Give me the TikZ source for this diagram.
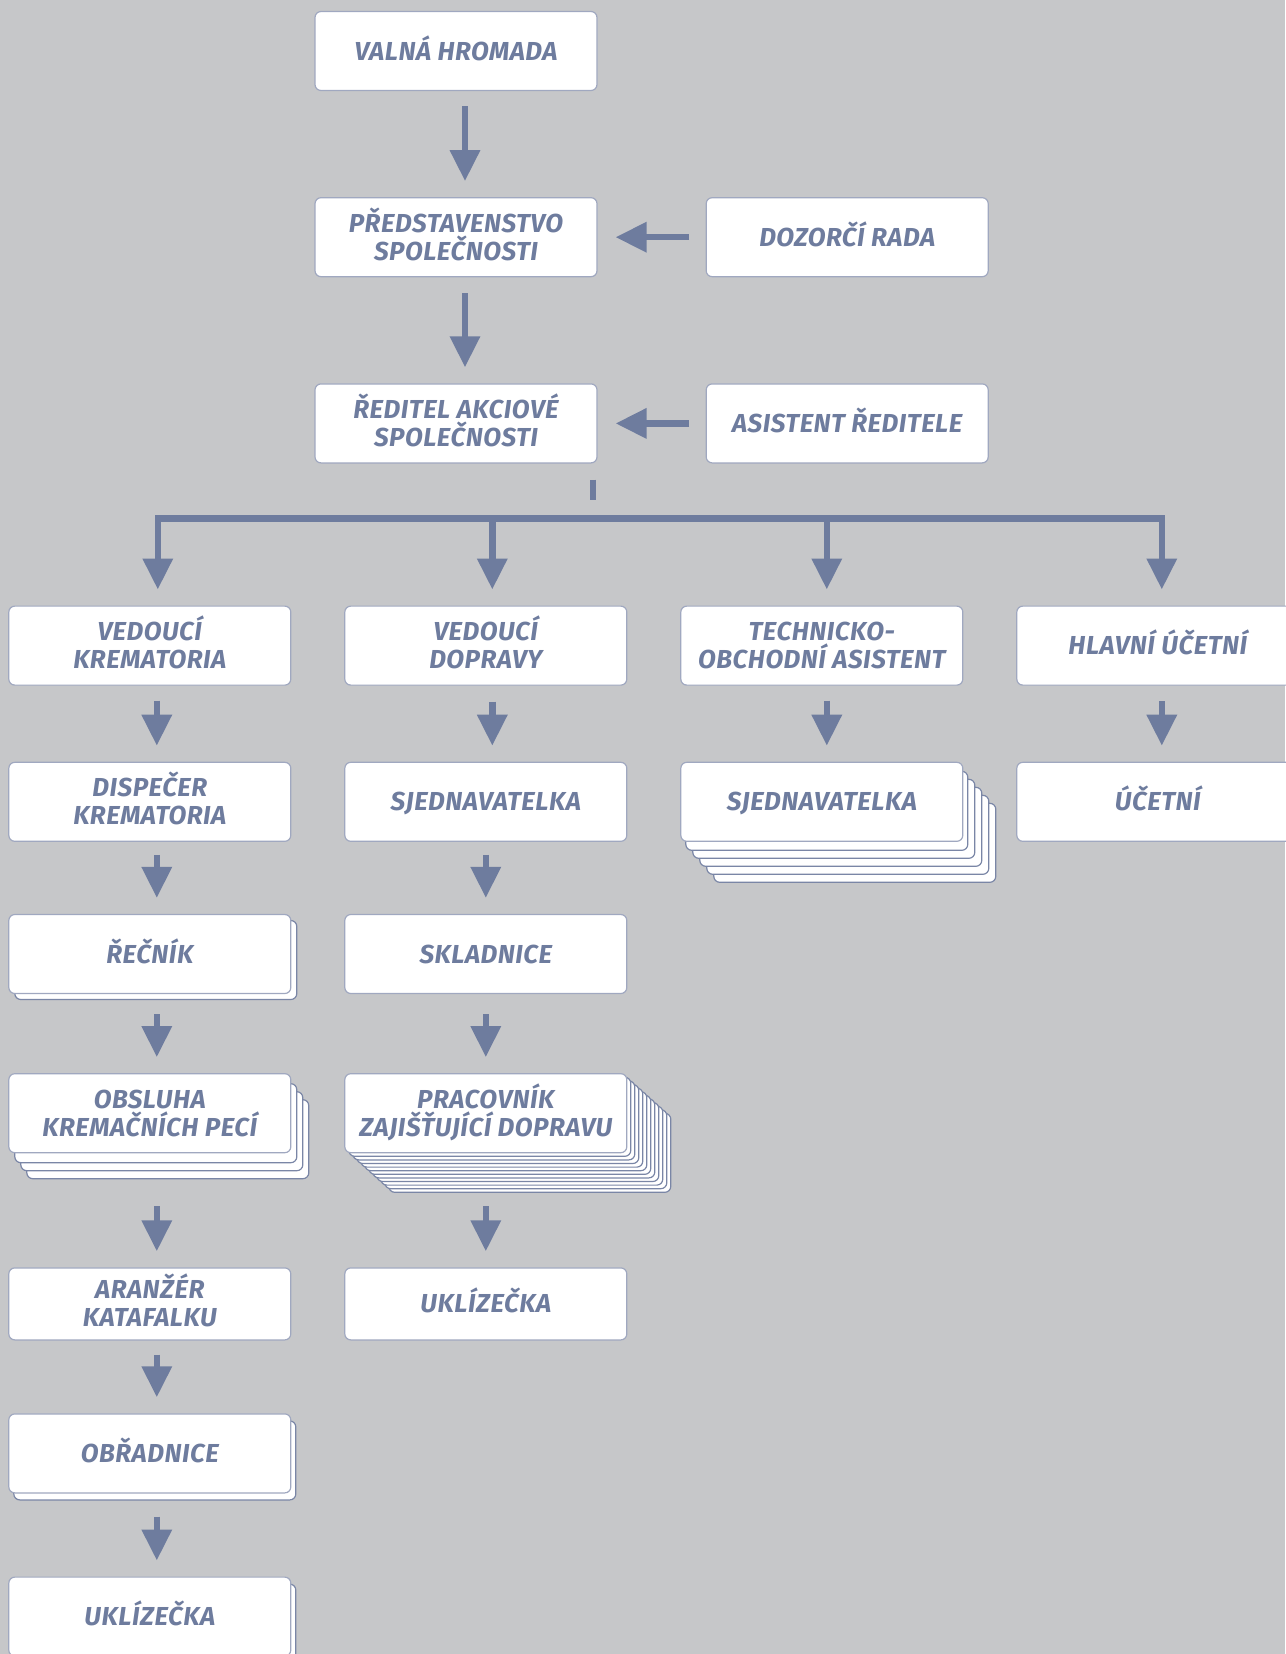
\documentclass[tikz,border=0pt]{standalone}
\usepackage{fontspec}
\newfontfamily\postfont{Fira Sans}[LetterSpace=2]
\usepackage{tikz}
\usetikzlibrary{positioning}
\usetikzlibrary{arrows.meta}
\usetikzlibrary{shadows}
\definecolor{paper}{RGB}{198,199,201}
\definecolor{ink}{RGB}{110,124,158}
\definecolor{frame}{RGB}{160,168,192}
\definecolor{sheetline}{RGB}{122,134,166}
\tikzstyle{post} = [rectangle, draw=frame, line width=0.6pt, fill=white, rounded corners=3pt, minimum width=141pt, minimum height=39.5pt, inner sep=2pt, align=center, text=ink, text height=9pt, text depth=0pt, font=\postfont\fontsize{13}{14}\selectfont\bfseries\itshape]
\tikzstyle{two lines} = [text height=23pt]
\tikzstyle{short post} = [post, minimum height=36pt]
\tikzstyle{flow} = [draw=ink, line width=3.25pt, -{Triangle[length=15.5pt, width=14.5pt]}, shorten >=8pt]
\tikzstyle{link} = [draw=ink, line width=3.25pt]
\tikzset{
  sheet/.style 2 args={general shadow={fill=white, draw=sheetline, line width=0.6pt, shadow xshift=#1, shadow yshift=#2}},
  single sheet/.style={sheet={2.5pt}{-3.5pt}},
  pile of three/.style={sheet={9pt}{-13pt}, sheet={6pt}{-9pt}, sheet={3pt}{-5pt}},
  pile of five/.style={sheet={16.5pt}{-20.5pt}, sheet={13pt}{-16.5pt}, sheet={9.5pt}{-12.5pt}, sheet={6pt}{-8.5pt}, sheet={2.5pt}{-4.5pt}},
  pile of eleven/.style={sheet={22pt}{-19.8pt}, sheet={20pt}{-18pt}, sheet={18pt}{-16.2pt}, sheet={16pt}{-14.4pt}, sheet={14pt}{-12.6pt}, sheet={12pt}{-10.8pt}, sheet={10pt}{-9pt}, sheet={8pt}{-7.2pt}, sheet={6pt}{-5.4pt}, sheet={4pt}{-3.6pt}, sheet={2pt}{-1.8pt}}
}
\begin{document}
\begin{tikzpicture}
            \fill[paper] (0,0) rectangle (642.5pt,-827pt);
            \useasboundingbox (0,0) rectangle (642.5pt,-827pt);
            \node[post] (valna) at (228pt,-25.5pt) {VALNÁ HROMADA};
            \node[post, two lines] (predstav) [below = 53pt of valna] {PŘEDSTAVENSTVO\\SPOLEČNOSTI};
            \node[post] (dozor) [right = 54pt of predstav] {DOZORČÍ RADA};
            \node[post, two lines] (reditel) [below = 53pt of predstav] {ŘEDITEL AKCIOVÉ\\SPOLEČNOSTI};
            \node[post] (asistent) [right = 54pt of reditel] {ASISTENT ŘEDITELE};
            \node[post, two lines] (vedkrem) [below left = 71pt and 11.5pt of reditel] {VEDOUCÍ\\KREMATORIA};
            \node[post, two lines] (veddoprava) [right = 26.4pt of vedkrem] {VEDOUCÍ\\DOPRAVY};
            \node[post, two lines] (techobch) [right = 26.4pt of veddoprava] {TECHNICKO-\\OBCHODNÍ ASISTENT};
            \node[post] (hlavuc) [right = 26.4pt of techobch] {HLAVNÍ ÚČETNÍ};
            \node[post, two lines] (dispecer) [below = 38pt of vedkrem] {DISPEČER\\KREMATORIA};
            \node[post] (sjedn) [below = 38pt of veddoprava] {SJEDNAVATELKA};
            \node[post, pile of five] (sjednobch) [below = 38pt of techobch] {SJEDNAVATELKA};
            \node[post] (ucetni) [below = 38pt of hlavuc] {ÚČETNÍ};
            \node[post, sheet={3pt}{-3pt}] (recnik) [below = 36pt of dispecer] {ŘEČNÍK};
            \node[post] (skladnice) [below = 36pt of sjedn] {SKLADNICE};
            \node[post, two lines, pile of three] (obsluha) [below = 39.5pt of recnik] {OBSLUHA\\KREMAČNÍCH PECÍ};
            \node[post, two lines, pile of eleven] (pracovnik) [below = 39.5pt of skladnice] {PRACOVNÍK\\ZAJIŠŤUJÍCÍ DOPRAVU};
            \node[short post, two lines] (aranzer) [below = 57pt of obsluha] {ARANŽÉR\\KATAFALKU};
            \node[short post] (uklidoprava) [below = 57pt of pracovnik] {UKLÍZEČKA};
            \node[post, single sheet] (obradnice) [below = 36.4pt of aranzer] {OBŘADNICE};
            \node[post, single sheet] (uklikrem) [below = 41.5pt of obradnice] {UKLÍZEČKA};

            \draw[flow, shorten <=7.5pt] ([xshift=4.5pt]valna.south) -- ([xshift=4.5pt]predstav.north);
            \draw[flow, shorten <=8pt] ([xshift=4.5pt]predstav.south) -- ([xshift=4.5pt]reditel.north);
            \draw[flow, shorten <=8.3pt, shorten >=9pt] (dozor.west) -- (predstav.east);
            \draw[flow, shorten <=8.3pt, shorten >=9pt] (asistent.west) -- (reditel.east);

            \coordinate (stub) at ([xshift=-2.2pt, yshift=-18pt]reditel.south east);
            \draw[link, shorten <=8pt] ([xshift=-2.2pt]reditel.south east) -- (stub);
            \coordinate (fork) at ([yshift=-27.5pt]reditel.south);
            \coordinate (drop1) at (vedkrem.north |- fork);
            \coordinate (drop2) at (veddoprava.north |- fork);
            \coordinate (drop3) at (techobch.north |- fork);
            \coordinate (drop4) at (hlavuc.north |- fork);
            \draw[link, line cap=rect] ([xshift=4pt]drop1) -- ([xshift=2pt]drop4);
            \draw[flow] ([xshift=4pt]drop1) -- ([xshift=4pt]vedkrem.north);
            \draw[flow] ([xshift=3.25pt]drop2) -- ([xshift=3.25pt]veddoprava.north);
            \draw[flow] ([xshift=2.5pt]drop3) -- ([xshift=2.5pt]techobch.north);
            \draw[flow] ([xshift=2pt]drop4) -- ([xshift=2pt]hlavuc.north);

            \draw[flow, shorten <=7.5pt] ([xshift=3.5pt]vedkrem.south) -- ([xshift=3.5pt]dispecer.north);
            \draw[flow, shorten <=6.5pt] ([xshift=3.5pt]dispecer.south) -- ([xshift=3.5pt]recnik.north);
            \draw[flow, shorten <=10pt] ([xshift=3.5pt]recnik.south) -- ([xshift=3.5pt]obsluha.north);
            \draw[flow, shorten <=26.5pt] ([xshift=3.5pt]obsluha.south) -- ([xshift=3.5pt]aranzer.north);
            \draw[flow, shorten <=7pt] ([xshift=3.5pt]aranzer.south) -- ([xshift=3.5pt]obradnice.north);
            \draw[flow, shorten <=11.5pt] ([xshift=3.5pt]obradnice.south) -- ([xshift=3.5pt]uklikrem.north);

            \draw[flow, shorten <=8pt] ([xshift=3.25pt]veddoprava.south) -- ([xshift=3.25pt]sjedn.north);
            \draw[flow, shorten <=6.5pt] (sjedn.south) -- (skladnice.north);
            \draw[flow, shorten <=10pt] (skladnice.south) -- (pracovnik.north);
            \draw[flow, shorten <=26.5pt] (pracovnik.south) -- (uklidoprava.north);

            \draw[flow, shorten <=7.5pt] ([xshift=2.5pt]techobch.south) -- ([xshift=2.5pt]sjednobch.north);
            \draw[flow, shorten <=7.75pt] ([xshift=2pt]hlavuc.south) -- ([xshift=2pt]ucetni.north);
          \end{tikzpicture}
\end{document}
